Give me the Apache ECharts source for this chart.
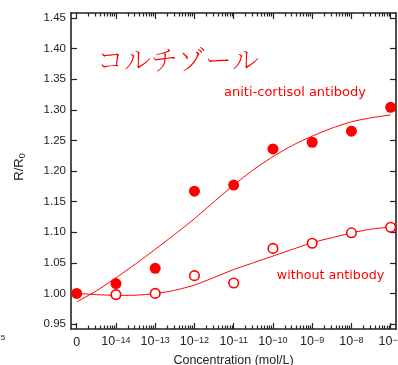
<!DOCTYPE html>
<html><head><meta charset="utf-8">
<script src="https://cdn.jsdelivr.net/npm/echarts@6/dist/echarts.min.js"></script>
<style>html,body{margin:0;padding:0;background:#fff}#c{width:398px;height:365px}</style>
</head><body><div id="c"></div>
<script>
// tick positions (decade index) and exponent labels
const positions = [0, 1, 2, 3, 4, 5, 6, 7, 8];
const exponents = ['0', '−14', '−13', '−12', '−11', '−10', '−9', '−8', '−7'];
const yTicks = [0.95, 1.00, 1.05, 1.10, 1.15, 1.20, 1.25, 1.30, 1.35, 1.40, 1.45];
// measured points
const antiValues = [1.000, 1.016, 1.041, 1.167, 1.177, 1.236, 1.247, 1.265, 1.304];
const withoutValues = ['-', 0.998, 1.000, 1.029, 1.017, 1.0735, 1.082, 1.099, 1.108];
// fitted curves
const fitX = [0, 0.5, 1, 1.5, 2, 2.5, 3, 3.5, 4, 4.5, 5, 5.5, 6, 6.5, 7, 7.5, 8];
const antiFit = [0.986, 1.004, 1.0255, 1.048, 1.072, 1.0965, 1.122, 1.150, 1.177, 1.202, 1.2235, 1.242, 1.257, 1.270, 1.2805, 1.287, 1.2916];
const withoutFit = [1.000, 0.998, 0.9967, 0.997, 0.9995, 1.005, 1.0135, 1.026, 1.039, 1.050, 1.061, 1.072, 1.083, 1.091, 1.099, 1.105, 1.1085];
const minorOffsets = [2, 3, 4, 5, 6, 7, 8, 9];

const minorTicks = [];
for (let d = 0; d < 8; d++) minorOffsets.forEach(k => minorTicks.push(d + Math.log10(k)));

const RED = '#ff0000', AX = '#222';
const xMin = -0.145, xMax = 8.135, yMin = 0.9418, yMax = 1.4582;
const latin = '"Liberation Sans", Arial, sans-serif';

function xAxisDef(pos, ticks, len, showLine, showLabels) {
  return {
    type: 'value', position: pos, min: xMin, max: xMax, gridIndex: 0,
    axisLine: { show: showLine, onZero: false, lineStyle: { color: AX, width: 1.6 } },
    axisTick: { show: true, inside: true, length: len, customValues: ticks, lineStyle: { color: AX, width: 1.2 } },
    splitLine: { show: false },
    axisLabel: showLabels ? {
      show: true, customValues: positions, margin: 7, color: AX, fontFamily: latin, hideOverlap: false,
      formatter: v => {
        const i = positions.indexOf(Math.round(v));
        const e = exponents[i];
        return e === '0' ? '{z|0}' : '{b|10}{s|' + e + '}';
      },
      rich: {
        z: { fontSize: 12.5, lineHeight: 12, padding: [2, 0, 0, 0], fontFamily: latin, color: AX },
        b: { fontSize: 12.5, lineHeight: 12, padding: [2, 0, 0, 0], verticalAlign: 'bottom', fontFamily: latin, color: AX },
        s: { fontSize: 9, lineHeight: 9, verticalAlign: 'top', fontFamily: latin, color: AX }
      }
    } : { show: false }
  };
}
function yAxisDef(pos, showLabels) {
  return {
    type: 'value', position: pos, min: yMin, max: yMax,
    axisLine: { show: true, onZero: false, lineStyle: { color: AX, width: 1.6 } },
    axisTick: { show: true, inside: true, length: 6, customValues: yTicks, lineStyle: { color: AX, width: 1.2 } },
    splitLine: { show: false },
    axisLabel: showLabels ? {
      show: true, customValues: yTicks, margin: 5, color: AX, fontFamily: latin, fontSize: 11.5,
      formatter: v => v.toFixed(2)
    } : { show: false }
  };
}

const chart = echarts.init(document.getElementById('c'), null, { renderer: 'canvas' });
chart.setOption({
  animation: false,
  backgroundColor: '#fff',
  grid: { left: 71, right: 2, top: 13, bottom: 36, containLabel: false, outerBoundsMode: 'none' },
  xAxis: [
    xAxisDef('bottom', positions, 6, true, true),
    xAxisDef('bottom', minorTicks, 3.5, false, false),
    xAxisDef('top', positions, 6, true, false),
    xAxisDef('top', minorTicks, 3.5, false, false)
  ],
  yAxis: [yAxisDef('left', true), yAxisDef('right', false)],
  series: [
    { type: 'line', xAxisIndex: 0, yAxisIndex: 0, smooth: 0.15, showSymbol: false, silent: true,
      lineStyle: { color: RED, width: 1 }, data: fitX.map((x, i) => [x, antiFit[i]]), z: 2 },
    { type: 'line', xAxisIndex: 0, yAxisIndex: 0, smooth: 0.15, showSymbol: false, silent: true,
      lineStyle: { color: RED, width: 1 }, data: fitX.map((x, i) => [x, withoutFit[i]]), z: 2 },
    { type: 'scatter', xAxisIndex: 0, yAxisIndex: 0, symbol: 'circle', symbolSize: 11,
      itemStyle: { color: RED, opacity: 1 }, data: positions.map((x, i) => [x, antiValues[i]]), z: 3 },
    { type: 'scatter', xAxisIndex: 0, yAxisIndex: 0, symbol: 'circle', symbolSize: 9.5,
      itemStyle: { color: '#fff', borderColor: RED, borderWidth: 1.6, opacity: 1 },
      data: positions.map((x, i) => [x, withoutValues[i]]).filter(p => p[1] !== '-'), z: 3 }
  ],
  graphic: [
    { type: 'text', x: 178, y: 59.5, z: 10, style: { text: 'コルチゾール', fill: RED, fontSize: 27,
      fontFamily: '"Noto Serif CJK JP","Noto Sans CJK JP",sans-serif', fontWeight: 'lighter', align: 'center', verticalAlign: 'middle' } },
    { type: 'text', x: 295, y: 92.5, z: 10, style: { text: 'aniti-cortisol antibody', fill: RED, fontSize: 13,
      fontFamily: '"DejaVu Sans",sans-serif', align: 'center', verticalAlign: 'middle' } },
    { type: 'text', x: 330.5, y: 275.5, z: 10, style: { text: 'without antibody', fill: RED, fontSize: 12.7,
      fontFamily: '"DejaVu Sans",sans-serif', align: 'center', verticalAlign: 'middle' } },
    { type: 'text', x: 20, y: 167, rotation: Math.PI / 2, z: 10, style: {
      text: '{r|R/R}{u|0}', align: 'center', verticalAlign: 'middle',
      rich: { r: { fontSize: 13, fontFamily: latin, fill: AX, lineHeight: 15, verticalAlign: 'top' },
              u: { fontSize: 9, fontFamily: latin, fill: AX, lineHeight: 9, verticalAlign: 'bottom' } } } },
    { type: 'text', x: 233.5, y: 361, z: 10, style: { text: 'Concentration (mol/L)', fill: AX, fontSize: 12.5,
      fontFamily: latin, align: 'center', verticalAlign: 'middle' } },
    { type: 'text', x: 3, y: 337.5, z: 10, style: { text: '5', fill: AX, fontSize: 8,
      fontFamily: latin, align: 'center', verticalAlign: 'middle' } }
  ]
});
</script></body></html>
